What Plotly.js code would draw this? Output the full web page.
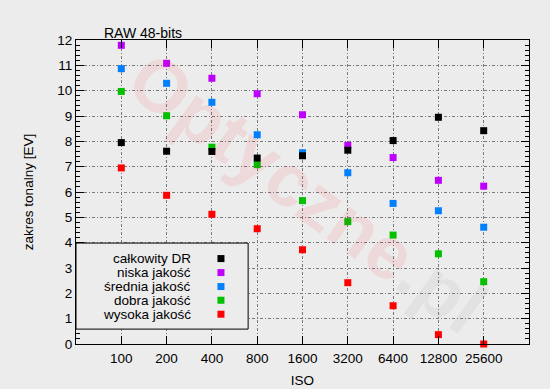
<!DOCTYPE html>
<html>
<head>
<meta charset="utf-8">
<script src="https://cdn.plot.ly/plotly-3.0.1.min.js"></script>
<style>
html,body{margin:0;padding:0;background:#ececec;}
#chart{width:550px;height:389px;}
</style>
</head>
<body>
<div id="chart"></div>
<script>
// ---- data ----
const iso = [100, 200, 400, 800, 1600, 3200, 6400, 12800, 25600];
const isoLabels = ["100", "200", "400", "800", "1600", "3200", "6400", "12800", "25600"];
const calkowityDR = [7.95, 7.61, 7.60, 7.34, 7.43, 7.65, 8.03, 8.95, 8.42];
const niskaJakosc = [11.79, 11.08, 10.49, 9.88, 9.05, 7.84, 7.36, 6.46, 6.23];
const sredniaJakosc = [10.87, 10.29, 9.54, 8.26, 7.55, 6.76, 5.55, 5.26, 4.61];
const dobraJakosc = [9.97, 9.01, 7.77, 7.08, 5.66, 4.83, 4.30, 3.56, 2.46];
const wysokaJakosc = [6.95, 5.87, 5.12, 4.55, 3.72, 2.42, 1.51, 0.37, 0.0];
const seriesNames = ["całkowity DR", "niska jakość", "średnia jakość", "dobra jakość", "wysoka jakość"];
const seriesValues = [calkowityDR, niskaJakosc, sredniaJakosc, dobraJakosc, wysokaJakosc];
const seriesColors = ["#000000", "#c000ff", "#0080ff", "#00c000", "#ff0000"];

const FONT = "Liberation Sans, Arial, sans-serif";
const BG = "#ececec";

// draw order: red first, black last (black on top)
const traces = [];
for (let i = seriesNames.length - 1; i >= 0; i--) {
  traces.push({
    type: "scatter", mode: "markers",
    x: iso, y: seriesValues[i], name: seriesNames[i],
    marker: {symbol: "square", size: 7, color: seriesColors[i], line: {width: 0}},
    cliponaxis: false, showlegend: false, hoverinfo: "x+y+name"
  });
}

// custom legend (text right-aligned, swatch on the right)
const legX0 = 0, legX1 = 0.38, legY0 = 0.049, legY1 = 0.332;
const legTextX = 0.258, legSwatchX = 0.32;
const legRowY = [0.281, 0.235, 0.189, 0.144, 0.098];
const shapes = [{
  type: "rect", xref: "paper", yref: "paper",
  x0: legX0, x1: legX1, y0: legY0, y1: legY1,
  line: {color: "#000", width: 1}, fillcolor: BG, layer: "above"
}];
const annotations = [];
seriesNames.forEach((n, i) => {
  annotations.push({
    xref: "paper", yref: "paper", x: legTextX, y: legRowY[i],
    xanchor: "right", yanchor: "middle", text: n, showarrow: false,
    font: {family: FONT, size: 13.5, color: "#000"}
  });
  shapes.push({
    type: "rect", xref: "paper", yref: "paper",
    xsizemode: "pixel", ysizemode: "pixel",
    xanchor: legSwatchX, yanchor: legRowY[i],
    x0: -3.5, x1: 3.5, y0: -3.5, y1: 3.5,
    fillcolor: seriesColors[i], line: {width: 0}, layer: "above"
  });
});

// watermark
annotations.push({
  xref: "paper", yref: "paper", x: 0.51, y: 0.5,
  xanchor: "center", yanchor: "middle", textangle: 36, showarrow: false,
  text: "<b><span style='color:rgba(255,0,0,0.08)'>Optyczne</span><span style='color:rgba(120,120,120,0.08)'>.pl</span></b>",
  font: {family: FONT, size: 74}
});

const layout = {
  width: 550, height: 389,
  paper_bgcolor: BG, plot_bgcolor: BG,
  margin: {l: 76, r: 21, t: 40, b: 45, pad: 0},
  showlegend: false,
  font: {family: FONT, size: 13, color: "#000"},
  title: {
    text: "RAW 48-bits", x: 104 / 550, xanchor: "left",
    y: 1 - 33 / 389, yanchor: "middle",
    font: {family: FONT, size: 14, color: "#000"}
  },
  xaxis: {
    type: "log",
    range: [Math.log10(50), Math.log10(51200)],
    tickmode: "array", tickvals: iso, ticktext: isoLabels,
    ticks: "inside", ticklen: 8, tickcolor: "#000", tickwidth: 1,
    showline: true, linecolor: "#000", linewidth: 1, mirror: "allticks",
    showgrid: true, gridcolor: "#7a7a7a", gridwidth: 1, griddash: "3px,2px,1px,2px",
    zeroline: false, ticklabelstandoff: 2,
    tickfont: {family: FONT, size: 13.5, color: "#000"},
    title: {text: "ISO", standoff: 10, font: {family: FONT, size: 13.5, color: "#000"}},
    automargin: false
  },
  yaxis: {
    range: [0, 12], dtick: 1, tick0: 0,
    ticks: "inside", ticklen: 8, tickcolor: "#000", tickwidth: 1,
    showline: true, linecolor: "#000", linewidth: 1, mirror: "allticks",
    showgrid: true, gridcolor: "#7a7a7a", gridwidth: 1, griddash: "3px,2px,1px,2px",
    zeroline: false,
    minor: {dtick: 0.2, ticks: "inside", ticklen: 4, tickcolor: "#000", showgrid: false},
    tickfont: {family: FONT, size: 13.5, color: "#000"},
    title: {text: "zakres tonalny [EV]", standoff: 20, font: {family: FONT, size: 13.5, color: "#000"}},
    automargin: false
  },
  shapes: shapes,
  annotations: annotations
};

Plotly.newPlot("chart", traces, layout, {displayModeBar: false, staticPlot: true});
</script>
</body>
</html>
